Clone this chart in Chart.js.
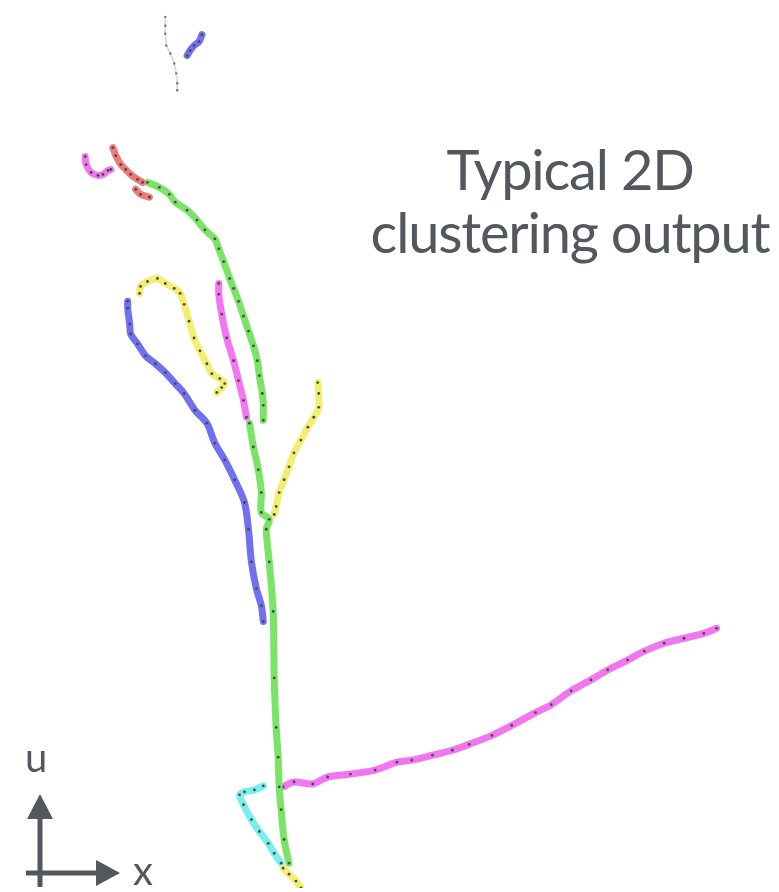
<!DOCTYPE html>
<html>
<head>
<meta charset="utf-8">
<script src="https://cdn.jsdelivr.net/npm/chart.js@4/dist/chart.umd.min.js"></script>
<style>
  body { margin: 0; background: #fff; }
  #wrap { position: relative; width: 779px; height: 892px; }
  #myChart { position: absolute; left: 0; top: 0; }
  .lbl { position: absolute; font-family: Lato, "Open Sans", sans-serif; color: #53575e; white-space: nowrap; }
  #title { left: 360px; top: 137px; width: 420px; text-align: center; font-size: 56px; line-height: 63px; letter-spacing: -1.2px; }
  #lblU { left: 25px; top: 733px; font-size: 40px; }
  #lblX { left: 133px; top: 846px; font-size: 40px; }
</style>
</head>
<body>
<div id="wrap">
  <canvas id="myChart" width="779" height="892"></canvas>
  <div class="lbl" id="title">Typical 2D<br>clustering output</div>
  <div class="lbl" id="lblU">u</div>
  <div class="lbl" id="lblX">x</div>
</div>
<script>
const grayTrack = [[163,13],[163,22],[163,30],[164,42],[168,50],[172,60],[174,70],[175,80],[175,87]];
const blueShort = [[200,31],[197,38],[192,42],[188,47],[185,52]];
const magentaShort = [[82,154],[83,162],[88,170],[95,173],[100,172],[105,168],[108,167]];
const redMain = [[110,145],[113,153],[118,162],[123,167],[128,172],[135,177],[140,180]];
const redBranch = [[133,187],[138,192],[147,195]];
const greenUpper = [[145,180],[157,185],[167,192],[173,200],[185,208],[195,218],[203,228],[213,237],[217,247],[222,260],[228,277],
  [232,287],[237,300],[242,315],[247,330],[252,345],[256,360],[258,375],[261,393],[262,405],[262,420]];
const magentaMid = [[217,282],[217,293],[220,313],[225,337],[232,360],[237,380],[242,400],[245,417]];
const greenLower = [[248,423],[252,447],[257,470],[260,493],[260,513],[268,520],[265,530],[268,563],[272,613],[273,680],
  [275,730],[277,760],[278,790],[280,813],[283,843],[288,867]];
const yellowLoop = [[137,292],[138,285],[145,280],[155,277],[163,282],[172,287],[178,292],[182,303],[187,320],[192,337],
  [198,350],[205,363],[210,373],[218,378],[223,383],[220,387],[215,392]];
const yellowRight = [[317,382],[318,393],[318,407],[313,417],[307,427],[300,440],[293,453],[288,467],[283,480],[278,493],[275,507],[273,515]];
const yellowBottom = [[282,872],[288,878],[295,885],[300,892]];
const blueLong = [[125,300],[125,307],[127,323],[128,333],[135,343],[143,355],[153,363],[163,372],[173,383],[182,393],
  [193,410],[205,423],[213,443],[223,460],[233,480],[243,503],[247,530],[250,563],[255,590],[260,607],[262,623]];
const cyanTrack = [[262,789],[253,793],[243,795],[238,798],[242,808],[250,823],[258,835],[267,847],[273,857],[280,867]];
const magentaLong = [[282,790],[293,785],[312,787],[327,780],[350,777],[375,773],[397,765],[412,763],[433,758],[453,753],
  [470,747],[493,738],[513,728],[537,715],[553,707],[573,693],[593,682],[610,672],[630,662],[647,653],[667,645],[687,640],[707,635],[720,630]];

const GREEN = '#7ae466', MAGENTA = '#f276f0', BLUE = '#7070f0', YELLOW = '#f2ee72', RED = '#f07a76', CYAN = '#78eef0';

function track(pts, color) {
  return {
    data: pts.map(p => ({x: p[0], y: p[1]})),
    showLine: true,
    borderColor: color,
    borderWidth: 7,
    borderCapStyle: 'round',
    borderJoinStyle: 'round',
    tension: 0.3,
    pointRadius: 1.4,
    pointBackgroundColor: '#4a4a4a',
    pointBorderWidth: 0
  };
}

let myChart = document.getElementById('myChart').getContext('2d');

let clusterChart = new Chart(myChart, {
  type: 'scatter',
  data: {
    datasets: [
      {
        data: grayTrack.map(p => ({x: p[0], y: p[1]})),
        showLine: true,
        borderColor: '#dddddd',
        borderWidth: 2,
        pointRadius: 1.2,
        pointBackgroundColor: '#777',
        pointBorderWidth: 0
      },
      track(blueShort, BLUE),
      track(magentaShort, MAGENTA),
      track(redMain, RED),
      track(redBranch, RED),
      track(greenUpper, GREEN),
      track(magentaMid, MAGENTA),
      track(greenLower, GREEN),
      track(yellowLoop, YELLOW),
      track(yellowRight, YELLOW),
      track(yellowBottom, YELLOW),
      track(blueLong, BLUE),
      track(cyanTrack, CYAN),
      track(magentaLong, MAGENTA)
    ]
  },
  options: {
    responsive: false,
    animation: false,
    layout: { padding: 0 },
    plugins: { legend: { display: false }, tooltip: { enabled: false } },
    scales: {
      x: { type: 'linear', min: 0, max: 779, display: false },
      y: { type: 'linear', min: 0, max: 892, reverse: true, display: false }
    }
  },
  plugins: [{
    id: 'axisArrows',
    afterDraw(chart) {
      const c = chart.ctx;
      c.save();
      c.fillStyle = '#53575e';
      c.strokeStyle = '#53575e';
      c.lineWidth = 5;
      c.beginPath();
      c.moveTo(40, 887); c.lineTo(40, 815);
      c.moveTo(26, 873); c.lineTo(98, 873);
      c.stroke();
      c.beginPath();
      c.moveTo(40, 794); c.lineTo(27, 819); c.lineTo(53, 819); c.closePath();
      c.fill();
      c.beginPath();
      c.moveTo(120, 873); c.lineTo(96, 860); c.lineTo(96, 886); c.closePath();
      c.fill();
      c.restore();
    }
  }]
});
</script>
</body>
</html>
